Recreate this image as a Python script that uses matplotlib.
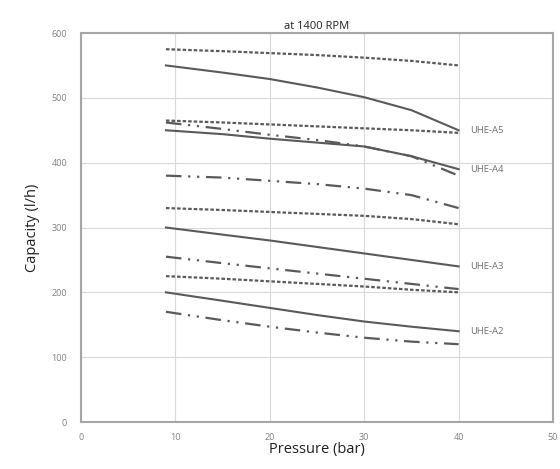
import matplotlib
matplotlib.use("Agg")
import matplotlib.pyplot as plt

plt.rcParams['font.family'] = ['Open Sans', 'DejaVu Sans']

# Data (pressure in bar, capacity in l/h)
p = [9, 15, 20, 25, 30, 35, 40]

a5_dot_hi = [575, 572, 569, 566, 562, 557, 550]
a5_solid = [550, 539, 529, 516, 501, 481, 450]
a5_dot_lo = [465, 462, 459, 456, 453, 450, 446]

a4_dashdot_hi = [462, 452, 443, 435, 425, 410, 380]
a4_solid = [450, 444, 437, 431, 425, 410, 390]
a4_dashdot_lo = [380, 377, 372, 367, 360, 350, 330]
a4_dot = [330, 327, 324, 321, 318, 313, 305]

a3_solid = [300, 289, 280, 270, 260, 250, 240]
a3_dashdot = [255, 245, 237, 229, 221, 213, 205]
a3_dot = [225, 221, 217, 213, 209, 204, 200]

a2_solid = [200, 187, 176, 165, 155, 147, 140]
a2_dashdot = [170, 157, 147, 138, 130, 124, 120]

labels = ["UHE-A5", "UHE-A4", "UHE-A3", "UHE-A2"]
label_vals = [a5_solid[-1], a4_solid[-1], a3_solid[-1], a2_solid[-1]]

x_ticks = [0, 10, 20, 30, 40, 50]
y_ticks = [0, 100, 200, 300, 400, 500, 600]

fig = plt.figure(figsize=(5.6, 4.69), dpi=100)
ax = fig.add_axes([0.1446, 0.1002, 0.8429, 0.8294])

c = '#5a5a5a'
dot = (0, (1.6, 0.9))
dashdot = (0, (7, 3, 1, 3, 1, 3))

for y in [a5_dot_hi, a5_dot_lo, a4_dot, a3_dot]:
    ax.plot(p, y, color=c, lw=1.6, linestyle=dot)
for y in [a5_solid, a4_solid, a3_solid, a2_solid]:
    ax.plot(p, y, color=c, lw=1.5, linestyle='-')
for y in [a4_dashdot_hi, a4_dashdot_lo, a3_dashdot, a2_dashdot]:
    ax.plot(p, y, color=c, lw=1.6, linestyle=dashdot)

for lab, v in zip(labels, label_vals):
    ax.annotate(lab, xy=(40, v), xytext=(8, 0), textcoords='offset points',
                va='center', ha='left', fontsize=6.8, color='#707070')

ax.set_xlim(0, 50)
ax.set_ylim(0, 600)
ax.set_xticks(x_ticks)
ax.set_yticks(y_ticks)
ax.tick_params(axis='both', labelsize=6.5, colors='#808080', length=0, pad=8)
ax.tick_params(axis='y', pad=10)
ax.grid(True, color='#d9d9d9', lw=0.8)
ax.set_axisbelow(True)
for s in ax.spines.values():
    s.set_color('#a6a6a6')
    s.set_linewidth(1.5)

ax.set_xlabel("Pressure (bar)", fontsize=10.5, color='#202020', labelpad=0)
ax.set_ylabel("Capacity (l/h)", fontsize=10.5, color='#202020', labelpad=8)
ax.set_title("at 1400 RPM", fontsize=8, color='#202020', pad=3)

fig.savefig("out.png", dpi=100)
